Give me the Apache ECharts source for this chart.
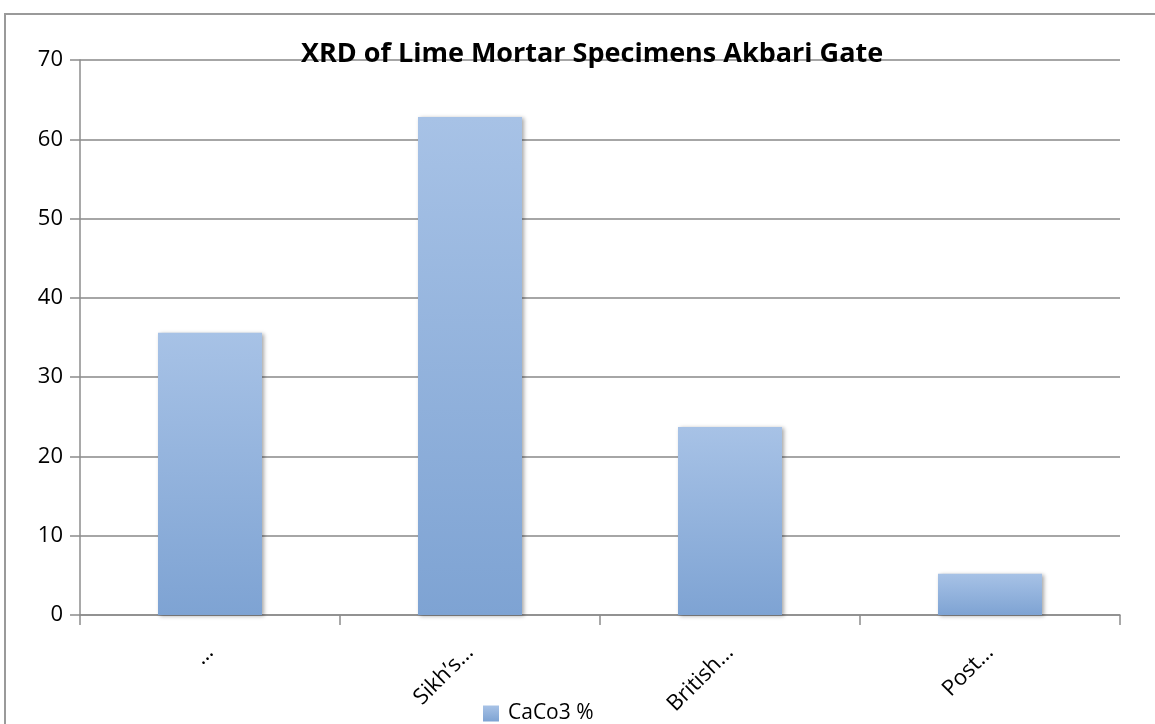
<!DOCTYPE html>
<html>
<head>
<meta charset="utf-8">
<title>XRD of Lime Mortar Specimens Akbari Gate</title>
<script src="https://cdn.jsdelivr.net/npm/echarts@6/dist/echarts.min.js"></script>
<style>
  html, body { margin: 0; padding: 0; background: #ffffff; }
  #chart { width: 1155px; height: 724px; }
</style>
</head>
<body>
<div id="chart"></div>
<script>
// Period labels along the x axis (shortened, as shown on the chart)
const categories = ['\u2026', 'Sikh\u2019s\u2026', 'British\u2026', 'Post\u2026'];
// CaCO3 content for each specimen, percent
const caco3Values = [35.6, 62.8, 23.7, 5.2];
// Value axis ticks
const yTicks = [0, 10, 20, 30, 40, 50, 60, 70];

const seriesName = 'CaCo3 %';
const fontFamily = '"Open Sans", "Noto Sans", "Liberation Sans", sans-serif';

const chart = echarts.init(document.getElementById('chart'), null, { renderer: 'canvas' });

const barFill = new echarts.graphic.LinearGradient(0, 0, 0, 1, [
  { offset: 0, color: '#a7c2e6' },
  { offset: 1, color: '#7ea3d3' }
]);

chart.setOption({
  backgroundColor: '#ffffff',
  animation: false,
  title: {
    text: 'XRD of Lime Mortar Specimens Akbari Gate',
    left: 587,
    textAlign: 'center',
    top: 36,
    textStyle: { fontFamily: fontFamily, fontWeight: 'bold', fontSize: 27, color: '#000000' }
  },
  legend: {
    data: [seriesName],
    top: 698,
    left: 478,
    itemWidth: 16,
    itemHeight: 16,
    icon: 'rect',
    textStyle: { fontFamily: fontFamily, fontSize: 21, color: '#000000', padding: [0, 0, 0, 4] }
  },
  graphic: [{
    type: 'rect',
    silent: true,
    shape: { x: 5, y: 14, width: 1300, height: 900 },
    style: { fill: 'none', stroke: '#9a9a9a', lineWidth: 2 }
  }],
  grid: { left: 80, right: 35, top: 60, bottom: 109, containLabel: false },
  xAxis: {
    type: 'category',
    data: categories,
    axisLine: { lineStyle: { color: '#8c8c8c', width: 1.5 } },
    axisTick: { show: true, length: 10, inside: false, lineStyle: { color: '#8c8c8c', width: 1.5 } },
    axisLabel: {
      rotate: 45,
      margin: 34,
      fontFamily: fontFamily,
      fontSize: 22,
      color: '#000000'
    }
  },
  yAxis: {
    type: 'value',
    min: yTicks[0],
    max: yTicks[yTicks.length - 1],
    interval: 10,
    axisLine: { show: true, lineStyle: { color: '#8c8c8c', width: 1.5 } },
    axisTick: { show: true, length: 10, lineStyle: { color: '#8c8c8c', width: 1.5 } },
    axisLabel: { fontFamily: fontFamily, fontSize: 22, color: '#000000', margin: 17 },
    splitLine: { show: true, lineStyle: { color: '#888888', width: 1.5 } }
  },
  series: [{
    name: seriesName,
    type: 'bar',
    data: caco3Values,
    barWidth: '40%',
    itemStyle: {
      color: barFill,
      shadowBlur: 4,
      shadowOffsetX: 2,
      shadowOffsetY: 1,
      shadowColor: 'rgba(0,0,0,0.35)'
    }
  }]
});
</script>
</body>
</html>
